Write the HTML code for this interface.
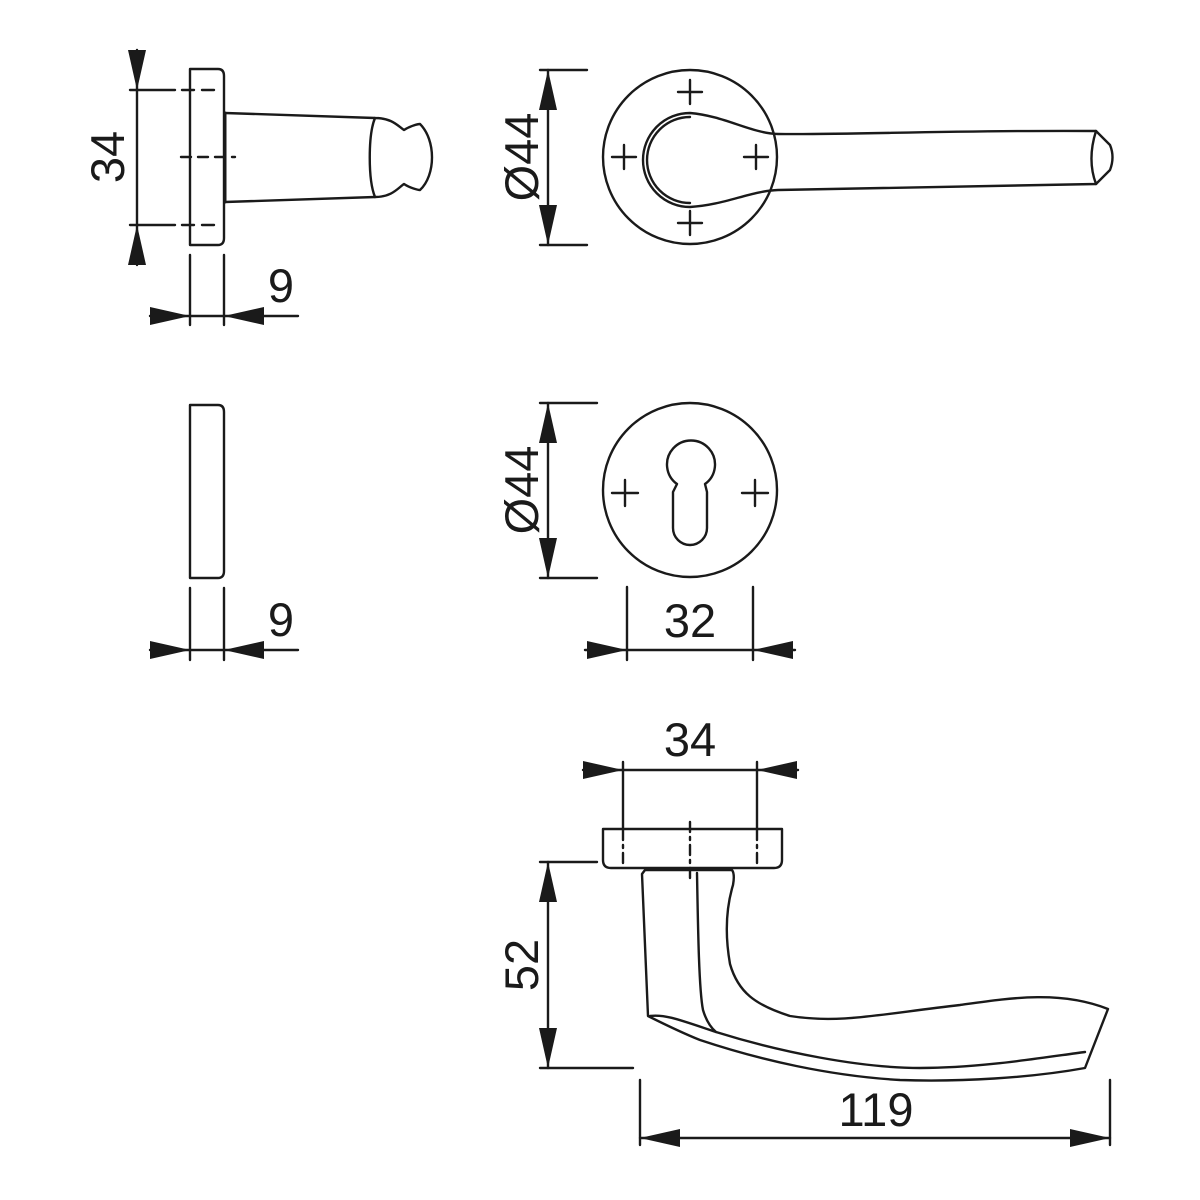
<!DOCTYPE html>
<html><head><meta charset="utf-8"><style>html,body{margin:0;padding:0;background:#fff}svg{display:block}</style></head>
<body>
<svg width="1200" height="1200" viewBox="0 0 1200 1200" xmlns="http://www.w3.org/2000/svg">
<g fill="none" stroke="#1a1a1a" stroke-width="2.4" stroke-linejoin="round" stroke-linecap="round">
<!-- top-left side view -->
<path d="M190,69 H218 Q224,69 224,76 V238 Q224,245 218,245 H190 Z"/>
<path d="M225,113 L375,118 C392,118 398,126 404,130 C410,126 418,124 420,124 C436,140 436,175 420,190 C418,190 410,188 404,184 C398,188 392,197 375,197 L225,202"/>
<path d="M375,118 C368,135 368,180 375,197"/>
<line x1="225" y1="113" x2="225" y2="202" stroke-width="3"/>
<line x1="130" y1="90" x2="175" y2="90"/>
<line x1="130" y1="225" x2="175" y2="225"/>
<line x1="182" y1="90" x2="222" y2="90" stroke-dasharray="12 8"/>
<line x1="182" y1="225" x2="222" y2="225" stroke-dasharray="12 8"/>
<line x1="181" y1="157" x2="235" y2="157" stroke-dasharray="10 7"/>
<line x1="137" y1="50" x2="137" y2="265"/>
<line x1="190" y1="255" x2="190" y2="325"/>
<line x1="224" y1="255" x2="224" y2="325"/>
<line x1="150" y1="316" x2="298" y2="316"/>
<!-- middle-left -->
<path d="M190,405 H218 Q224,405 224,412 V571 Q224,578 218,578 H190 Z"/>
<line x1="190" y1="588" x2="190" y2="660"/>
<line x1="224" y1="588" x2="224" y2="660"/>
<line x1="150" y1="650" x2="298" y2="650"/>
<!-- top middle rose & handle -->
<circle cx="690" cy="157" r="87"/>
<path d="M678,92 h24 M690,80 v24 M612,157 h24 M624,145 v24 M744,157 h24 M756,145 v24 M678,223 h24 M690,211 v24"/>
<path d="M690,113 C725,116 750,133 778,134 C850,135 950,130 1096,131 L1110,145 Q1115,157 1110,170 L1096,184 C950,186 850,188 778,190 C750,191 725,205 690,207 A47,47 0 0 1 690,113 Z"/>
<path d="M690,117 A43,43 0 0 0 690,203"/>
<path d="M1096,131 C1090,150 1090,168 1096,184"/>
<line x1="540" y1="70" x2="587" y2="70"/>
<line x1="540" y1="245" x2="587" y2="245"/>
<line x1="548" y1="70" x2="548" y2="245"/>
<!-- escutcheon -->
<circle cx="690" cy="490" r="87"/>
<path d="M612,493 h26 M625,480 v26 M742,493 h26 M755,480 v26"/>
<path d="M677,484 A24,24 0 1 1 705,484 L707,492 V528 A17,17 0 0 1 673,528 V492 Z"/>
<line x1="540" y1="403" x2="597" y2="403"/>
<line x1="540" y1="578" x2="597" y2="578"/>
<line x1="548" y1="403" x2="548" y2="578"/>
<line x1="627" y1="587" x2="627" y2="660"/>
<line x1="753" y1="587" x2="753" y2="660"/>
<line x1="585" y1="650" x2="795" y2="650"/>
<!-- bottom lever -->
<line x1="623" y1="762" x2="623" y2="828"/>
<line x1="757" y1="762" x2="757" y2="828"/>
<line x1="583" y1="770" x2="798" y2="770"/>
<path d="M603,829 H782 V860 Q782,868 774,868 H611 Q603,868 603,860 Z"/>
<line x1="623" y1="830" x2="623" y2="866" stroke-dasharray="10 5 3 5"/>
<line x1="757" y1="830" x2="757" y2="866" stroke-dasharray="10 5 3 5"/>
<line x1="690" y1="822" x2="690" y2="878" stroke-dasharray="10 5 3 5"/>
<path d="M645,870 H732 Q735,874 733,885 C727,905 724,930 730,964 C738,992 755,1005 790,1016 C840,1024 880,1014 960,1005 C1010,998 1060,990 1108,1009 L1085,1068 C1030,1078 960,1082 900,1080 C830,1076 760,1060 700,1040 C680,1032 660,1022 648,1016 L642,874 Z"/>
<path d="M697,873 C698,930 699,990 703,1010 C706,1020 710,1027 716,1032"/>
<path d="M650,1016 C665,1014 680,1020 716,1032 C780,1052 860,1068 920,1068 C980,1068 1040,1058 1085,1052"/>
<line x1="540" y1="862" x2="597" y2="862"/>
<line x1="540" y1="1068" x2="633" y2="1068"/>
<line x1="548" y1="862" x2="548" y2="1068"/>
<line x1="640" y1="1080" x2="640" y2="1145"/>
<line x1="1110" y1="1080" x2="1110" y2="1145"/>
<line x1="640" y1="1138" x2="1110" y2="1138"/>
</g>
<g fill="#1a1a1a">
<polygon points="137,90 128,50 146,50"/>
<polygon points="137,225 128,265 146,265"/>
<polygon points="190,316 150,307 150,325"/>
<polygon points="224,316 264,307 264,325"/>
<polygon points="190,650 150,641 150,659"/>
<polygon points="224,650 264,641 264,659"/>
<polygon points="548,70 539,110 557,110"/>
<polygon points="548,245 539,205 557,205"/>
<polygon points="548,403 539,443 557,443"/>
<polygon points="548,578 539,538 557,538"/>
<polygon points="627,650 587,641 587,659"/>
<polygon points="753,650 793,641 793,659"/>
<polygon points="623,770 583,761 583,779"/>
<polygon points="757,770 797,761 797,779"/>
<polygon points="548,862 539,902 557,902"/>
<polygon points="548,1068 539,1028 557,1028"/>
<polygon points="640,1138 680,1129 680,1147"/>
<polygon points="1110,1138 1070,1129 1070,1147"/>
</g>
<g font-family="'Liberation Sans', Arial, sans-serif" font-size="47" fill="#1a1a1a" text-anchor="middle">
<text transform="translate(124,157) rotate(-90)">34</text>
<text x="281" y="302">9</text>
<text x="281" y="636">9</text>
<text transform="translate(538,157) rotate(-90)">Ø44</text>
<text transform="translate(538,490) rotate(-90)">Ø44</text>
<text x="690" y="637">32</text>
<text x="690" y="756">34</text>
<text transform="translate(538,965) rotate(-90)">52</text>
<text x="876" y="1126">119</text>
</g>
</svg>
</body></html>
